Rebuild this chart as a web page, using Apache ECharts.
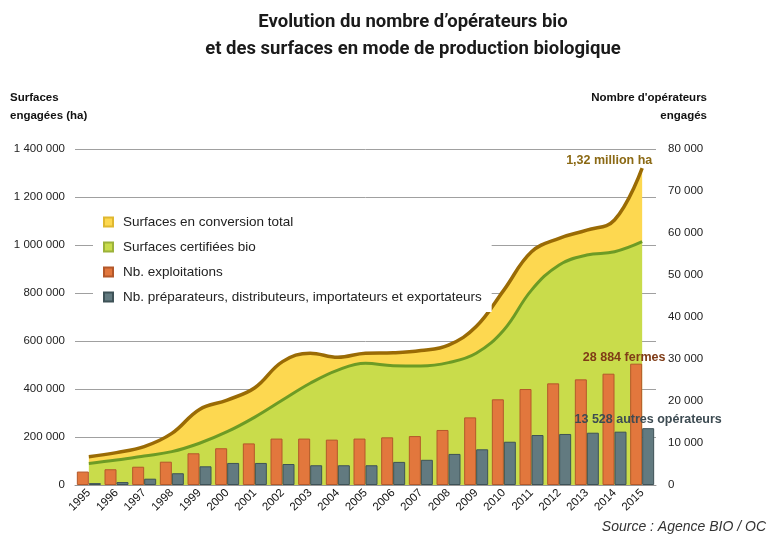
<!DOCTYPE html>
<html>
<head>
<meta charset="utf-8">
<script src="https://cdn.jsdelivr.net/npm/echarts@6/dist/echarts.min.js"></script>
<style>
  html, body { margin: 0; padding: 0; background: #fff; }
  #chart { width: 769px; height: 535px; }
</style>
</head>
<body>
<div id="chart"></div>
<script>
// values
const years = ['1995', '1996', '1997', '1998', '1999', '2000', '2001', '2002', '2003', '2004', '2005',
  '2006', '2007', '2008', '2009', '2010', '2011', '2012', '2013', '2014', '2015'];
const certified = [90000, 104000, 121000, 139000, 174000, 222000, 283000, 354000, 424000, 479000, 507000,
  497000, 496000, 510000, 549000, 646000, 812000, 917000, 958000, 972000, 1014000];
const conversion = [28000, 31000, 39000, 76000, 141000, 132000, 122000, 160000, 125000, 53000, 42000,
  54000, 64000, 73000, 111000, 166000, 160000, 111000, 104000, 132000, 306000];
const farms = [3200, 3750, 4350, 5550, 7550, 8750, 9900, 11050, 11050, 10800, 11050,
  11350, 11650, 13100, 16100, 20400, 22850, 24200, 25150, 26500, 28884];
const others = [450, 700, 1500, 2800, 4450, 5250, 5250, 5000, 4700, 4700, 4700,
  5500, 6000, 7400, 8500, 10300, 11900, 12150, 12450, 12700, 13528];
const seriesNames = ['Surfaces en conversion total', 'Surfaces certifiées bio', 'Nb. exploitations',
  'Nb. préparateurs, distributeurs, importateurs et exportateurs'];

const last = years.length - 1;
const total = certified.map((v, i) => v + conversion[i]);
const fmt = v => String(v).replace(/\B(?=(\d{3})+(?!\d))/g, ' ');
const FONT = 'Liberation Sans';

const chart = echarts.init(document.getElementById('chart'), null, { renderer: 'canvas' });

chart.setOption({
  animation: false,
  textStyle: { fontFamily: FONT },
  graphic: [
    { type: 'text', x: 413, y: 22, style: { text: 'Evolution du nombre d’opérateurs bio', font: 'bold 18.5px Roboto', fill: '#1a1a1a', textAlign: 'center', textVerticalAlign: 'middle' } },
    { type: 'text', x: 413, y: 49, style: { text: 'et des surfaces en mode de production biologique', font: 'bold 18.5px Roboto', fill: '#1a1a1a', textAlign: 'center', textVerticalAlign: 'middle' } },
    { type: 'text', x: 10, y: 98, style: { text: 'Surfaces', font: 'bold 11.5px ' + FONT, fill: '#111', textVerticalAlign: 'middle' } },
    { type: 'text', x: 10, y: 116, style: { text: 'engagées (ha)', font: 'bold 11.5px ' + FONT, fill: '#111', textVerticalAlign: 'middle' } },
    { type: 'text', x: 707, y: 98, style: { text: "Nombre d'opérateurs", font: 'bold 11.5px ' + FONT, fill: '#111', textAlign: 'right', textVerticalAlign: 'middle' } },
    { type: 'text', x: 707, y: 116, style: { text: 'engagés', font: 'bold 11.5px ' + FONT, fill: '#111', textAlign: 'right', textVerticalAlign: 'middle' } },
    { type: 'text', x: 766, y: 527, style: { text: 'Source : Agence BIO / OC', font: 'italic 14px ' + FONT, fill: '#333', textAlign: 'right', textVerticalAlign: 'middle' } }
  ],
  legend: {
    orient: 'vertical',
    left: 93,
    top: 207,
    padding: [8, 10],
    itemGap: 11,
    itemWidth: 9,
    itemHeight: 9,
    icon: 'rect',
    backgroundColor: '#fff',
    data: seriesNames,
    textStyle: { fontSize: 13.5, color: '#222', fontFamily: FONT, padding: [0, 0, 0, 5] }
  },
  grid: { left: 75, right: 113, top: 149, bottom: 50, containLabel: false },
  xAxis: {
    type: 'category',
    data: years,
    boundaryGap: true,
    axisLine: { lineStyle: { color: '#999' } },
    axisTick: { show: false },
    axisLabel: { rotate: 45, fontSize: 11.5, color: '#111', margin: 6 }
  },
  yAxis: [
    {
      type: 'value', min: 0, max: 1400000, interval: 200000,
      axisLine: { show: false }, axisTick: { show: false },
      splitLine: { lineStyle: { color: '#a0a0a0', width: 1 } },
      axisLabel: { fontSize: 11.5, color: '#222', margin: 10, formatter: fmt }
    },
    {
      type: 'value', min: 0, max: 80000, interval: 10000,
      axisLine: { show: false }, axisTick: { show: false },
      splitLine: { show: false },
      axisLabel: { fontSize: 11.5, color: '#222', margin: 12, formatter: fmt }
    }
  ],
  series: [
    {
      name: seriesNames[1],
      type: 'line', stack: 'surf', smooth: 0.4, symbol: 'none', z: 3,
      data: certified,
      itemStyle: { color: '#c9dc4b', borderColor: '#9cb23a', borderWidth: 1 },
      lineStyle: { color: '#6d9b25', width: 3 },
      areaStyle: { color: '#c9dc4b', opacity: 1 }
    },
    {
      name: seriesNames[0],
      type: 'line', stack: 'surf', smooth: 0.4, symbol: 'none', z: 2,
      data: conversion,
      itemStyle: { color: '#fdd850', borderColor: '#e0b830', borderWidth: 1 },
      lineStyle: { color: '#9a6b05', width: 3.5 },
      areaStyle: { color: '#fdd850', opacity: 1 },
      endLabel: {
        show: true, offset: [-84, -8],
        color: '#8b6914', fontWeight: 'bold', fontSize: 12.5,
        formatter: () => (total[last] / 1e6).toFixed(2).replace('.', ',') + ' million ha'
      }
    },
    {
      name: seriesNames[2],
      type: 'bar', yAxisIndex: 1, barWidth: 12, barGap: '0%', z: 5,
      data: farms,
      itemStyle: { color: '#e2773d', borderColor: '#b4582a', borderWidth: 1 },
      label: {
        show: true, position: 'top', distance: 0, offset: [-12, 0],
        color: '#7f3b16', fontWeight: 'bold', fontSize: 12.5,
        formatter: p => p.dataIndex === last ? fmt(p.value) + ' fermes' : ''
      }
    },
    {
      name: seriesNames[3],
      type: 'bar', yAxisIndex: 1, barWidth: 12, barGap: '0%', z: 5,
      data: others,
      itemStyle: { color: '#627a80', borderColor: '#3e5257', borderWidth: 1 },
      label: {
        show: true, position: 'top', distance: 2,
        color: '#3d4b52', fontWeight: 'bold', fontSize: 12.5,
        formatter: p => p.dataIndex === last ? fmt(p.value) + ' autres opérateurs' : ''
      }
    }
  ]
});
</script>
</body>
</html>
